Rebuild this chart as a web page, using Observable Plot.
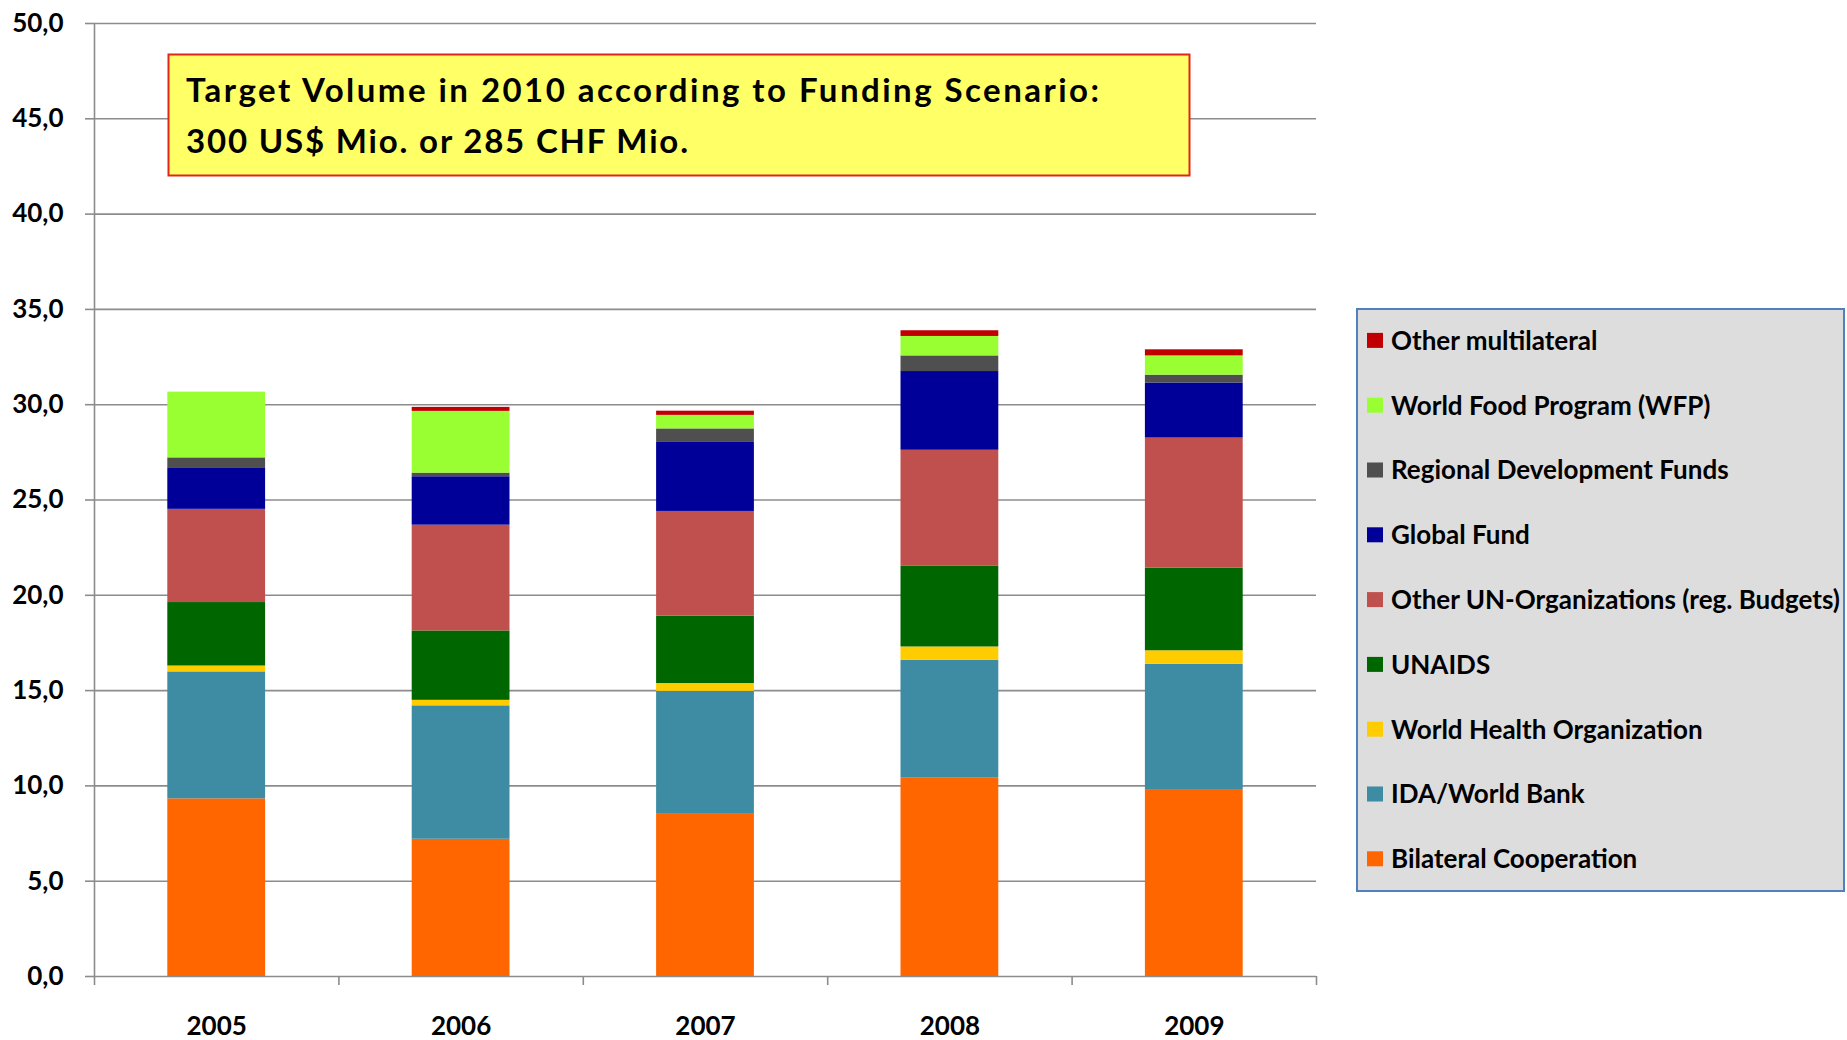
<!DOCTYPE html>
<html>
<head>
<meta charset="utf-8">
<script src="https://cdn.jsdelivr.net/npm/d3@7"></script>
<script src="https://cdn.jsdelivr.net/npm/@observablehq/plot@0.6"></script>
<style>
  html, body { margin: 0; padding: 0; background: #ffffff; }
  #wrap { position: relative; width: 1847px; height: 1040px; overflow: hidden; font-family: Lato, "Open Sans", sans-serif; }
  #overlay { position: absolute; left: 0; top: 0; pointer-events: none; }
</style>
</head>
<body>
<div id="wrap"></div>
<script>
// ---- data (Mio. CHF) ----
const years = [2005, 2006, 2007, 2008, 2009];

// stacking order: bottom -> top
const seriesNames = [
  "Bilateral Cooperation",
  "IDA/World Bank",
  "World Health Organization",
  "UNAIDS",
  "Other UN-Organizations (reg. Budgets)",
  "Global Fund",
  "Regional Development Funds",
  "World Food Program (WFP)",
  "Other multilateral"
];
const seriesColors = [
  "#FF6600", "#3D8CA4", "#FFCC00", "#006600", "#C0504D",
  "#000099", "#4F4F4F", "#99FF33", "#C00000"
];

const bilateral  = [9.32, 7.20, 8.51, 10.43, 9.81];
const idaWB      = [6.66, 7.00, 6.45, 6.16, 6.57];
const who        = [0.31, 0.29, 0.41, 0.70, 0.71];
const unaids     = [3.33, 3.64, 3.54, 4.25, 4.33];
const otherUN    = [4.89, 5.55, 5.49, 6.07, 6.83];
const globalFund = [2.18, 2.54, 3.62, 4.13, 2.89];
const regDevFund = [0.52, 0.19, 0.71, 0.82, 0.41];
const wfp        = [3.45, 3.24, 0.71, 1.02, 1.01];
const otherMulti = [0.00, 0.21, 0.22, 0.30, 0.32];

const yTicks = [0, 5, 10, 15, 20, 25, 30, 35, 40, 45, 50];
const boundaryTicks = [2005, 2006, 2007, 2008, 2009, 2010];

const annotationLines = [
  "Target Volume in 2010 according to Funding Scenario:",
  "300 US$ Mio. or 285 CHF Mio."
];
const annotationWidths = [913, 502];

// ---- build table ----
const seriesValues = [bilateral, idaWB, who, unaids, otherUN, globalFund, regDevFund, wfp, otherMulti];
const data = seriesNames.flatMap((s, i) =>
  years.map((yr, j) => ({series: s, year: yr, value: seriesValues[i][j]}))
);

const gridColor = "#8C8C8C";
const fontFamily = "Lato, 'Open Sans', sans-serif";

const chart = Plot.plot({
  width: 1847,
  height: 1040,
  marginLeft: 94,
  marginRight: 531,
  marginTop: 23,
  marginBottom: 64,
  x: {domain: [2005, 2010]},
  y: {domain: [0, 50]},
  color: {domain: seriesNames, range: seriesColors},
  style: {fontFamily, fontWeight: "bold", fontSize: "26px", color: "#000", background: "#fff", overflow: "visible"},
  marks: [
    Plot.ruleY(yTicks, {stroke: gridColor, strokeWidth: 1.6}),
    Plot.rectY(data, Plot.stackY({
      x1: "year",
      x2: d => d.year + 1,
      y: "value",
      fill: "series",
      insetLeft: 73.3,
      insetRight: 73.3
    })),
    Plot.ruleX([2005], {stroke: gridColor, strokeWidth: 1.6}),
    Plot.axisY({
      ticks: yTicks, tickSize: 9, tickPadding: 22,
      tickFormat: d => d.toFixed(1).replace(".", ","),
      stroke: gridColor, strokeWidth: 1.6, fill: "#000", label: null, fontSize: 26
    }),
    Plot.axisX({
      ticks: boundaryTicks, tickSize: 9, tickFormat: () => "",
      stroke: gridColor, strokeWidth: 1.6, label: null
    }),
    Plot.axisX({
      ticks: years.map(y => y + 0.5), tickSize: 0, tickPadding: 40,
      tickFormat: d => String(Math.floor(d)), fill: "#000", label: null, fontSize: 26
    })
  ]
});

const wrap = document.getElementById("wrap");
wrap.appendChild(chart);

// ---- overlay: annotation box and legend ----
const svg = d3.select(wrap).append("svg")
  .attr("id", "overlay")
  .attr("width", 1847).attr("height", 1040)
  .style("font-family", fontFamily)
  .style("font-weight", "bold");

// annotation
const ann = svg.append("g");
ann.append("rect")
  .attr("x", 168.5).attr("y", 54.5).attr("width", 1021).attr("height", 121)
  .attr("fill", "#FFFF66").attr("stroke", "#E0261B").attr("stroke-width", 2);
ann.selectAll("text").data(annotationLines).join("text")
  .attr("x", 186).attr("y", (d, i) => 102 + i * 51)
  .attr("font-size", 33).attr("fill", "#000")
  .attr("textLength", (d, i) => annotationWidths[i])
  .attr("lengthAdjust", "spacing")
  .text(d => d);

// legend
const leg = svg.append("g");
leg.append("rect")
  .attr("x", 1357).attr("y", 309).attr("width", 487).attr("height", 582)
  .attr("fill", "#DDDDDD").attr("stroke", "#4F81BD").attr("stroke-width", 2);
const legendItems = seriesNames.map((s, i) => ({name: s, color: seriesColors[i]})).reverse();
const item = leg.selectAll("g.item").data(legendItems).join("g")
  .attr("class", "item")
  .attr("transform", (d, i) => `translate(0, ${340.4 + i * 64.8})`);
item.append("rect")
  .attr("x", 1367).attr("y", -7.5).attr("width", 16).attr("height", 15)
  .attr("fill", d => d.color);
item.append("text")
  .attr("x", 1391).attr("y", 0).attr("dy", "0.36em")
  .attr("font-size", 26).attr("fill", "#000")
  .text(d => d.name);
</script>
</body>
</html>
